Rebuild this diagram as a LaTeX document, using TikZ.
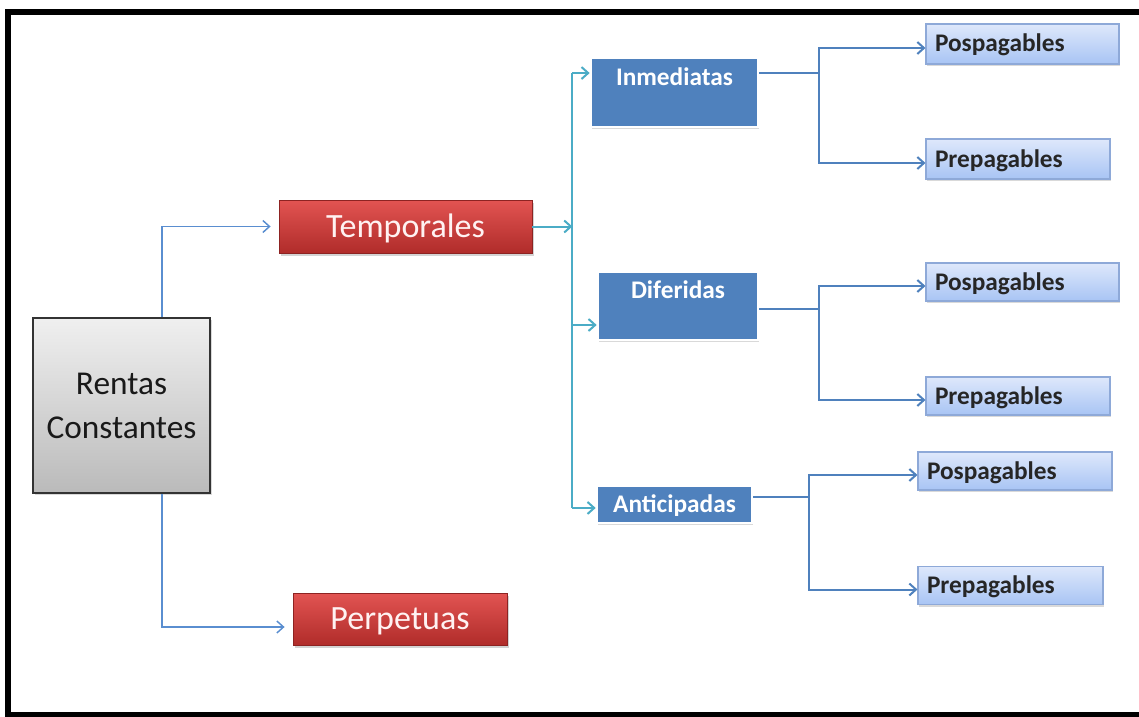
\documentclass[tikz,border=0pt]{standalone}
\usepackage{fontspec}
\setmainfont{Carlito}
\usepackage{tikz}
\usetikzlibrary{positioning}
\usetikzlibrary{arrows.meta}
\usetikzlibrary{shadows}
\definecolor{officeblue}{HTML}{4F81BD}
\definecolor{linkblue}{HTML}{5A8ED0}
\definecolor{busteal}{HTML}{4BACC6}
\definecolor{redtop}{HTML}{E25452}
\definecolor{redbot}{HTML}{B02C2A}
\definecolor{leaftop}{HTML}{DEE8FB}
\definecolor{leafbot}{HTML}{A8C4F4}
\definecolor{leafedge}{HTML}{8EA9D8}

\begin{document}
\begin{tikzpicture}[
x=0.75pt, y=-0.75pt,
>={Straight Barb[length=5pt,width=9pt]},
rootnode/.style={
  draw=black!80,
  line width=1.2pt,
  top color=black!6,
  bottom color=black!27,
  minimum width=132.75pt,
  minimum height=131.25pt,
  align=center,
  text=black!90,
  font=\fontsize{25}{33}\selectfont,
  drop shadow={opacity=0.3, shadow xshift=1.5pt, shadow yshift=-1.5pt}
  },
rednode/.style={
  draw=redbot!80!black,
  line width=0.6pt,
  top color=redtop,
  bottom color=redbot,
  text=white!95!red,
  text height=16pt,
  text depth=0pt,
  font=\fontsize{25.5}{30}\selectfont,
  drop shadow={opacity=0.35, shadow xshift=1.5pt, shadow yshift=-2pt}
  },
bluenode/.style={
  draw=white,
  line width=2pt,
  fill=officeblue,
  inner sep=0pt,
  text=white,
  font=\fontsize{19}{22}\bfseries\selectfont,
  drop shadow={opacity=0.3, shadow xshift=1pt, shadow yshift=-1.5pt}
  },
leafnode/.style={
  draw=leafedge,
  line width=0.8pt,
  top color=leaftop,
  bottom color=leafbot,
  text width=#1,
  align=left,
  inner xsep=6.75pt,
  inner ysep=0pt,
  text height=12pt,
  text depth=0pt,
  text=black!85,
  font=\fontsize{19}{22}\bfseries\selectfont,
  drop shadow={opacity=0.3, shadow xshift=1pt, shadow yshift=-1.5pt}
  },
rootlink/.style={draw=linkblue, line width=1.1pt, shorten >=6pt},
buslink/.style={draw=busteal, line width=1.5pt},
leaflink/.style={draw=officeblue, line width=1.5pt}
]
\useasboundingbox (0,0) rectangle (1139,717);
% frame
\draw[line width=4.5pt] (1139,12) -- (8,12) -- (8,714.5) -- (1139,714.5);

% boxes
\node[rootnode] (rc) at (121.5,405.5) {Rentas\\Constantes};
\node[rednode, minimum width=189.75pt, minimum height=39.75pt] (temp) at (405.5,226.5) {Temporales};
\node[rednode, minimum width=160.5pt, minimum height=39pt] (perp) at (400,619) {Perpetuas};

\node[bluenode, minimum width=125.25pt, text height=20.25pt, text depth=31.5pt] (inm) at (674.5,92.5) {Inmediatas};
\node[bluenode, minimum width=120pt, text height=19.5pt, text depth=31.5pt] (dif) at (678,306) {Diferidas};
\node[bluenode, minimum width=116.25pt, minimum height=27.75pt, text height=12pt, text depth=0pt] (ant) at (674.5,504.5) {Anticipadas};

\node[leafnode=131.25pt, minimum height=30pt] (p1) at (1022.5,44) {Pospagables};
\node[leafnode=124.5pt, minimum height=30pt] (q1) at (1018,159) {Prepagables};
\node[leafnode=131.25pt, minimum height=28.5pt] (p2) at (1022.5,282) {Pospagables};
\node[leafnode=124.5pt, minimum height=28.5pt] (q2) at (1018,396) {Prepagables};
\node[leafnode=132pt, minimum height=28.5pt] (p3) at (1015,471) {Pospagables};
\node[leafnode=125.25pt, minimum height=29pt] (q3) at (1010.5,585.5) {Prepagables};

% root to first level
\draw[rootlink,->] ([xshift=30.4pt]rc.north) |- (temp.west);
\draw[rootlink,->] ([xshift=30.4pt]rc.south) |- ([yshift=-6pt]perp.west);

% bus
\path (temp.east) ++(40,0) coordinate (bus);
\coordinate (inmin) at ([yshift=14.6pt]inm.west);
\coordinate (difin) at ([yshift=-14.25pt]dif.west);
\coordinate (antin) at ([yshift=-2.6pt]ant.west);
\draw[buslink,->] (temp.east) -- (bus);
\draw[buslink] (inmin -| bus) -- (antin -| bus);
\foreach \b in {inmin,difin,antin}
  \draw[buslink,->] (\b -| bus) -- (\b);

% second level to leaves
\coordinate (o1) at ([yshift=14.6pt]inm.east);
\coordinate (o2) at ([yshift=-2.25pt]dif.east);
\coordinate (o3) at ([yshift=5.6pt]ant.east);
\path (o1) ++(60,0) coordinate (f1);
\path (o2) ++(60,0) coordinate (f2);
\path (o3) ++(56,0) coordinate (f3);
\foreach \i in {1,2,3} {
  \draw[leaflink] (o\i) -- (f\i);
  \draw[leaflink,->] (f\i) |- ([yshift=-3pt]p\i.west);
  \draw[leaflink,->] (f\i) |- ([yshift=-3pt]q\i.west);
}
\end{tikzpicture}
\end{document}
